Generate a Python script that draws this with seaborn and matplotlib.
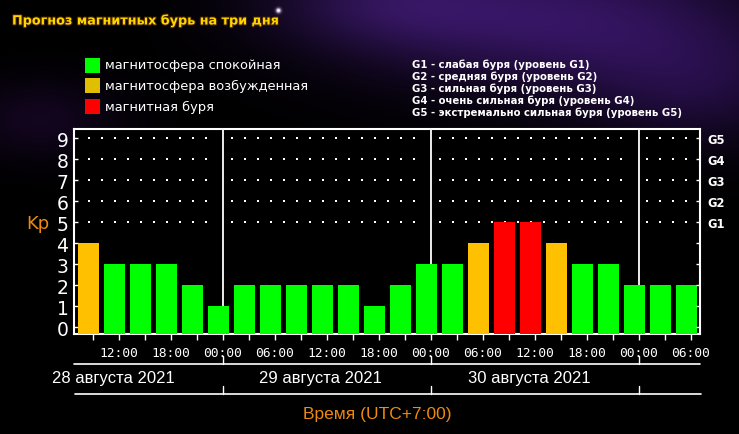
import numpy as np
import pandas as pd
import matplotlib
matplotlib.use("Agg")
import matplotlib.pyplot as plt
import matplotlib.transforms as mtransforms
import matplotlib.patheffects as pe
from matplotlib.patches import Rectangle
import seaborn as sns

# ---------------- data ----------------
kp_values = [4, 3, 3, 3, 2, 1, 2, 2, 2, 2, 2, 1, 2, 3, 3, 4, 5, 5, 4, 3, 3, 2, 2, 2]
first_bar_center_hour = 8.5      # local time (UTC+7) of first 3-hour interval centre, 28 Aug
bar_hours = 3
time_labels = ["12:00", "18:00", "00:00", "06:00", "12:00", "18:00",
               "00:00", "06:00", "12:00", "18:00", "00:00", "06:00"]
first_label_hour = 12
label_step_hours = 6
date_labels = ["28 августа 2021", "29 августа 2021", "30 августа 2021"]
y_ticks = [0, 1, 2, 3, 4, 5, 6, 7, 8, 9]
g_levels = [5, 6, 7, 8, 9]
g_labels = ["G1", "G2", "G3", "G4", "G5"]
legend_labels = ["магнитосфера спокойная", "магнитосфера возбужденная", "магнитная буря"]
g_legend = ["G1 - слабая буря (уровень G1)",
            "G2 - средняя буря (уровень G2)",
            "G3 - сильная буря (уровень G3)",
            "G4 - очень сильная буря (уровень G4)",
            "G5 - экстремально сильная буря (уровень G5)"]
title = "Прогноз магнитных бурь на три дня"
xlabel = "Время (UTC+7:00)"
ylabel = "Kp"

# ---------------- styling ----------------
W, H = 739, 435
GREEN, ORANGE, RED = "#00FF00", "#FFC000", "#FF0000"
LEG_YELLOW = "#E0BE00"
TXT_ORANGE = "#EE8A10"

def level(k):
    if k >= 5:
        return "storm"
    if k == 4:
        return "active"
    return "quiet"

def hour_to_pos(h):
    return (h - first_bar_center_hour) / bar_hours

df = pd.DataFrame({"pos": list(range(len(kp_values))),
                   "kp": kp_values,
                   "level": [level(k) for k in kp_values]})

sns.set_theme(style="dark")
plt.rcParams["font.family"] = ["DejaVu Sans"]

fig = plt.figure(figsize=(W / 100, H / 100), dpi=100)
fig.patch.set_facecolor("black")

# background nebula (decoration)
bg = fig.add_axes([0, 0, 1, 1], zorder=-5)
yy, xx = np.mgrid[0:H, 0:W]
img = np.zeros((H, W, 3))
def blob(cx, cy, sx, sy, col, amp):
    g = amp * np.exp(-(((xx - cx) / sx) ** 2 + ((yy - cy) / sy) ** 2))
    for c in range(3):
        img[:, :, c] += g * col[c]
blob(560, 20, 200, 70, (0.26, 0.10, 0.48), 0.75)
blob(380, 0, 120, 50, (0.20, 0.09, 0.36), 0.6)
blob(700, 90, 120, 60, (0.18, 0.07, 0.34), 0.55)
blob(40, 120, 80, 40, (0.16, 0.05, 0.27), 0.45)
blob(278, 11, 2.5, 2.5, (1, 1, 1), 1.0)
img = np.clip(img, 0, 1)
bg.imshow(img, aspect="auto", extent=(0, W, H, 0))
bg.set_xlim(0, W); bg.set_ylim(H, 0)
bg.axis("off")

# main axes
L, R, T, B = 74, 700, 130, 335
ax = fig.add_axes([L / W, 1 - B / H, (R - L) / W, (B - T) / H])
ax.set_facecolor("black")

sns.barplot(data=df, x="pos", y="kp", hue="level",
            palette={"quiet": GREEN, "active": ORANGE, "storm": RED},
            dodge=False, width=0.81, saturation=1, legend=False,
            linewidth=0, ax=ax, zorder=3)

ymin, ymax = -0.32, 9.44
xmin, xmax = -0.56, 23.52
ax.set_ylim(ymin, ymax)
ax.set_xlim(xmin, xmax)

# extend bars down to the frame
for p in ax.patches:
    top = p.get_y() + p.get_height()
    p.set_y(ymin)
    p.set_height(top - ymin)

# midnight lines
midnights = [hour_to_pos(h) for h in (24, 48, 72)]
for m in midnights:
    ax.axvline(m, color="white", lw=1.3, zorder=1)

# dotted grid for levels 5..9
dot_x = np.arange(0, len(kp_values) - 0.5, 0.5)
dot_x = [x for x in dot_x if min(abs(x - m) for m in midnights) > 0.25]
dx, dy = np.meshgrid(dot_x, g_levels)
ax.scatter(dx.ravel(), dy.ravel(), s=1.0, color="white", marker="s",
           linewidths=0, zorder=2)

# x ticks
major = [hour_to_pos(first_label_hour + label_step_hours * i) for i in range(len(time_labels))]
minor = [hour_to_pos(9 + bar_hours * i) for i in range(len(kp_values))]
ax.set_xticks(major)
ax.set_xticklabels(time_labels, family="DejaVu Sans Mono", fontsize=9.3, color="white")
ax.set_xticks(minor, minor=True)
ax.tick_params(axis="x", which="both", direction="out", length=4, width=1,
               color="white", pad=5, bottom=True)
ax.set_xlabel("")

# y ticks
ax.set_yticks(y_ticks)
ax.set_yticklabels([str(v) for v in y_ticks], fontsize=13.5, color="white")
ax.tick_params(axis="y", direction="in", length=3, width=1, color="white", pad=4, left=True)
ax.set_ylabel("")
ax.grid(False)

for s in ax.spines.values():
    s.set_color("white")
    s.set_linewidth(1.5)
    s.set_visible(True)

ax2 = ax.twinx()
ax2.set_ylim(ymin, ymax)
ax2.set_yticks(y_ticks)
ax2.set_yticklabels(["" if v not in g_levels else g_labels[g_levels.index(v)] for v in y_ticks],
                    fontsize=8.3, fontweight="bold", color="white")
ax2.tick_params(axis="y", direction="in", length=3, width=1, color="white", pad=5, right=True)
ax2.grid(False)
for s in ax2.spines.values():
    s.set_visible(False)

# Kp label
fig.text(38 / W, 1 - 224 / H, ylabel, color=TXT_ORANGE, fontsize=13,
         ha="center", va="center")

# bottom date panel
btf = mtransforms.blended_transform_factory(ax.transData, fig.transFigure)
bta = mtransforms.blended_transform_factory(ax.transAxes, fig.transFigure)
y1, y2 = 1 - 365 / H, 1 - 395 / H
ax.plot([0, 1.0], [y1, y1], transform=bta, color="white", lw=1.2, clip_on=False)
ax.plot([0.002, 1.002], [y2, y2], transform=bta, color="white", lw=1.2, clip_on=False)
for m in midnights:
    ax.plot([m, m], [y1, 1 - 357 / H], transform=btf, color="white", lw=1, clip_on=False)
    ax.plot([m, m], [y2, 1 - 387 / H], transform=btf, color="white", lw=1, clip_on=False)
noons = [hour_to_pos(12 + 24 * i) - 0.23 for i in range(len(date_labels))]
for x, lab in zip(noons, date_labels):
    ax.text(x, 1 - 379 / H, lab, transform=btf, ha="center", va="center",
            color="white", fontsize=12, family="Liberation Sans")

fig.text(377 / W, 1 - 415 / H, xlabel, color=TXT_ORANGE, fontsize=12.5,
         family="Liberation Sans", ha="center", va="center")

# title
fig.text(12 / W, 1 - 22 / H, title, color="#FFD500", fontsize=9.2, fontweight="bold",
         ha="left", va="center",
         path_effects=[pe.withStroke(linewidth=1.5, foreground="#402000")])

# legend
for i, (lab, col) in enumerate(zip(legend_labels, [GREEN, LEG_YELLOW, RED])):
    yc = 66 + 20.5 * i
    fig.patches.append(Rectangle((85 / W, 1 - (yc + 7.5) / H), 15 / W, 15 / H,
                                 transform=fig.transFigure, facecolor=col,
                                 edgecolor="none"))
    fig.text(105 / W, 1 - yc / H, lab, color="white", fontsize=9.4,
             ha="left", va="center")

for i, lab in enumerate(g_legend):
    fig.text(412 / W, 1 - (65 + 12 * i) / H, lab, color="white", fontsize=7.25,
             fontweight="bold", ha="left", va="center")

fig.savefig("out.png", dpi=100, facecolor=fig.get_facecolor())
